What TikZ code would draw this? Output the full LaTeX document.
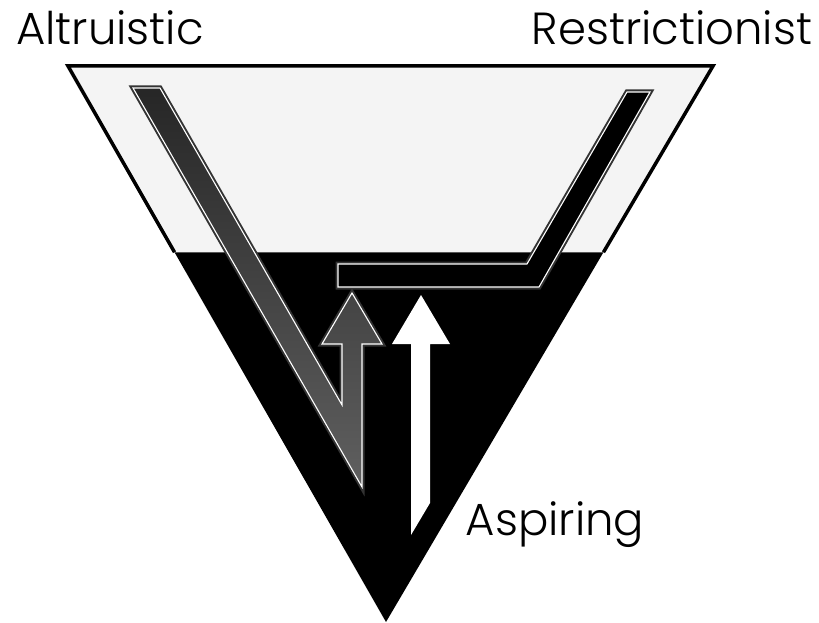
\documentclass[tikz,border=0pt]{standalone}
\usepackage{fontspec}
\setmainfont{Poppins}[UprightFont={* Light}]
\usetikzlibrary{calc}
\begin{document}
\begin{tikzpicture}[
	x=1pt,y=-1pt,
	lbl/.style={font=\fontsize{45}{50}\selectfont,inner sep=0pt,anchor=base},
	rim/.style={draw=black!80,line width=5pt,line join=miter},
	band/.style={draw=white,line width=1.1pt,line join=miter}
	]
	\useasboundingbox (0,0) rectangle (819,623);
	\coordinate (tl) at (68,66);
	\coordinate (tr) at (713,66);
	\coordinate (bt) at (386,622);
	\coordinate (ml) at ($(tl)!0.335!(bt)$);
	\coordinate (mr) at ($(tr)!0.335!(bt)$);
	\fill[black] (tl) -- (tr) -- (bt) -- cycle;
	\fill[gray!9] (tl) -- (tr) -- (mr) -- (ml) -- cycle;
	\draw[line width=3.5pt] (ml) -- (tl) -- (tr) -- (mr);
	\draw[rim] (133,88) -- (362,487) -- (362,344) -- (382,344) -- (352,293) -- (322,344)
		-- (342,344) -- (342,405) -- (160,88) -- cycle;
	\draw[band,top color=gray!30!black,bottom color=gray!75!black] (133,88) -- (362,487)
		-- (362,344) -- (382,344) -- (352,293) -- (322,344) -- (342,344) -- (342,405)
		-- (160,88) -- cycle;
	\draw[rim] (338,264) -- (527,264) -- (627,92) -- (650,92) -- (539,287) -- (338,287) -- cycle;
	\draw[band,fill=black] (338,264) -- (527,264) -- (627,92) -- (650,92) -- (539,287)
		-- (338,287) -- cycle;
	\fill[white] (421,295) -- (450,344) -- (430,344) -- (430,503) -- (411,535) -- (411,344)
		-- (392,344) -- cycle;
	\node[lbl] (altr) at (110,45) {Altruistic};
	\node[lbl] (restr) at (672,45) {Restrictionist};
	\node[lbl] (aspir) at (555,535) {Aspiring};
\end{tikzpicture}
\end{document}
